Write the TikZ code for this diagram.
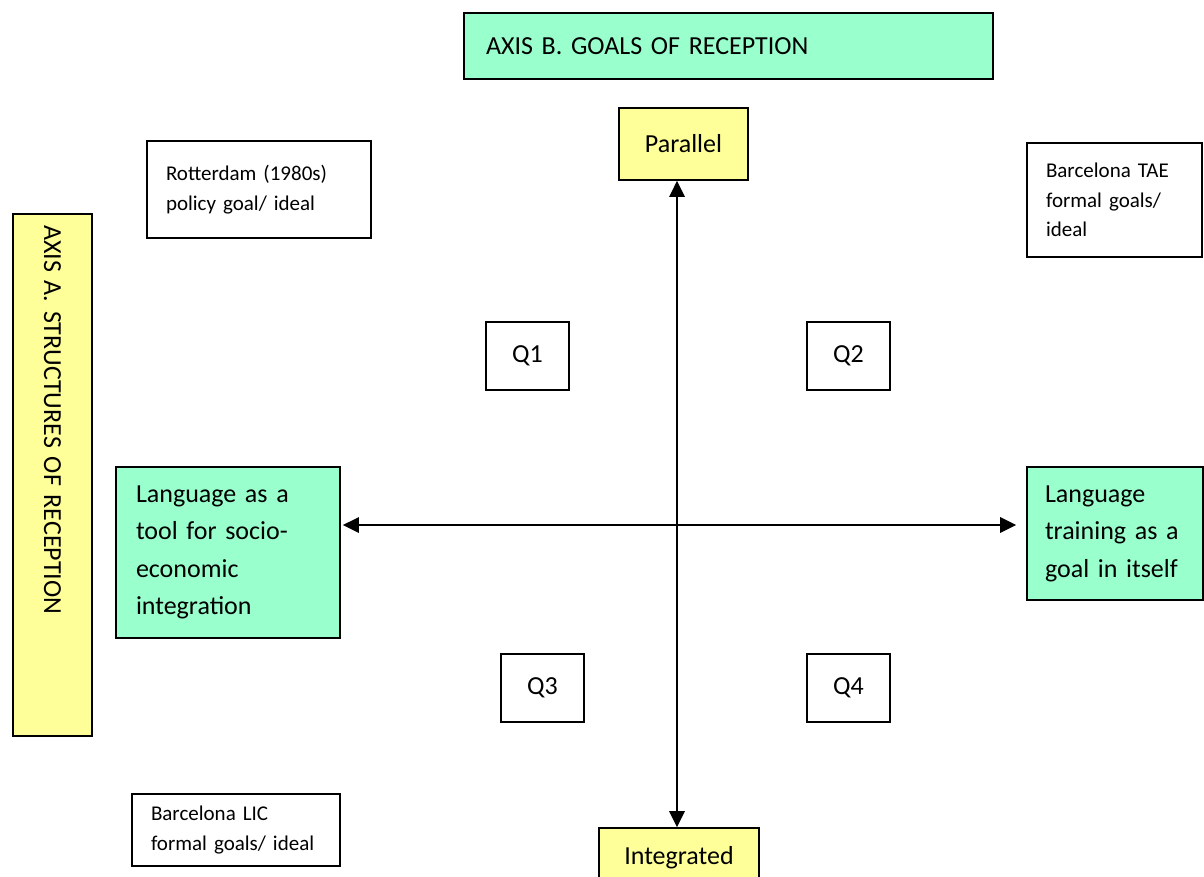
\documentclass[tikz,border=0pt]{standalone}
\usepackage{fontspec}
\setmainfont{Carlito}
\usepackage{tikz}
\usetikzlibrary{positioning, arrows.meta}
\definecolor{axisyellow}{HTML}{FFFF99}
\definecolor{axisgreen}{HTML}{99FFCC}
\frenchspacing

\begin{document}
\begin{tikzpicture}[x=1pt, y=-1pt, >={Triangle[length=16pt, width=15pt]},
    box/.style={draw, line width=1.6pt, inner sep=0pt},
    bigtext/.style={font=\fontsize{26}{37.5}\selectfont},
    smalltext/.style={font=\fontsize{21}{29.5}\selectfont},
    yellowbox/.style={box, fill=axisyellow},
    greenbox/.style={box, fill=axisgreen},
    quarter/.style={box, bigtext, minimum width=83pt, minimum height=68pt}]
    	\clip (0,0) rectangle (1204,876);
    	% axis titles
    	\node[greenbox, bigtext, minimum width=529pt, minimum height=66pt, text width=485pt, align=left] (axisB) at (728.5,46) {AXIS B. GOALS OF RECEPTION};
    	\node[yellowbox, bigtext, rotate=-90, minimum width=522pt, minimum height=79pt, text width=500pt, align=left] (axisA) at (52.5,475) {AXIS A. STRUCTURES OF RECEPTION};
    	% ends of the axes
    	\node[yellowbox, bigtext, minimum width=129pt, minimum height=72pt] (parallel) at (683.5,144) {Parallel};
    	\node[yellowbox, bigtext, minimum width=160pt, minimum height=59pt] (integrated) at (679,857.5) {Integrated};
    	\node[greenbox, bigtext, minimum width=224pt, minimum height=171pt, text width=184pt, align=left] (tool) at (228,552.5) {Language as a\\ tool for socio-\\ economic\\ integration};
    	\node[greenbox, bigtext, minimum width=176pt, minimum height=133pt, text width=140pt, align=left] (goal) at (1115,533.5) {Language\\ training as a\\ goal in itself};
    	% cases
    	\node[box, smalltext, minimum width=224pt, minimum height=97pt, text width=186pt, align=left] (rotterdam) at (259,189.5) {Rotterdam (1980s)\\ policy goal/ ideal};
    	\node[box, smalltext, minimum width=175pt, minimum height=114pt, text width=137pt, align=left] (tae) at (1114.5,200) {Barcelona TAE\\ formal goals/\\ ideal};
    	\node[box, smalltext, minimum width=208pt, minimum height=72pt, text width=170pt, align=left] (lic) at (236,830) {Barcelona LIC\\ formal goals/ ideal};
    	% quadrants
    	\node[quarter] (q1) at (527.5,356) {Q1};
    	\node[quarter] (q2) at (848.5,356) {Q2};
    	\node[quarter] (q3) at (542.5,688) {Q3};
    	\node[quarter] (q4) at (848.5,688) {Q4};
    	% axes
    	\coordinate (mid) at (677,525);
    	\draw[<->, line width=2.8pt] (mid |- parallel.south) -- (mid |- integrated.north);
    	\draw[<->, line width=2.8pt] ([xshift=2pt]tool.east |- mid) -- ([xshift=-10pt]goal.west |- mid);
    \end{tikzpicture}
\end{document}
